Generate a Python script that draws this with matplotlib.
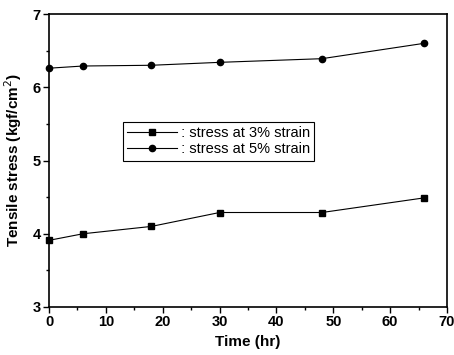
import matplotlib.pyplot as plt
from matplotlib.ticker import MultipleLocator

plt.rcParams['font.family'] = ['Liberation Sans', 'DejaVu Sans']

# data
time_hr = [0, 6, 18, 30, 48, 66]
stress_3 = [3.91, 4.00, 4.10, 4.29, 4.29, 4.49]
stress_5 = [6.26, 6.29, 6.30, 6.34, 6.39, 6.60]

fig = plt.figure(figsize=(4.54, 3.55), dpi=100)
ax = fig.add_axes([49 / 454, 1 - 307 / 355, 398 / 454, 293 / 355])

ax.plot(time_hr, stress_3, color='black', marker='s', markersize=4.2, linewidth=0.8,
        label=' : stress at 3% strain', clip_on=False)
ax.plot(time_hr, stress_5, color='black', marker='o', markersize=4.5, linewidth=0.8,
        label=' : stress at 5% strain', clip_on=False)

ax.set_xlim(0, 70)
ax.set_ylim(3, 7)
ax.xaxis.set_major_locator(MultipleLocator(10))
ax.xaxis.set_minor_locator(MultipleLocator(5))
ax.yaxis.set_major_locator(MultipleLocator(1))
ax.yaxis.set_minor_locator(MultipleLocator(0.5))
ax.tick_params(which='major', direction='out', length=4, width=1, labelsize=10.5, pad=2)
ax.tick_params(which='minor', direction='out', length=2, width=1)
for lbl in ax.get_xticklabels() + ax.get_yticklabels():
    lbl.set_fontweight('bold')
for sp in ax.spines.values():
    sp.set_linewidth(1.2)

ax.set_xlabel('Time (hr)', fontsize=11, fontweight='bold', labelpad=4)
ax.set_ylabel('Tensile stress (kgf/cm$^2$)', fontsize=11, fontweight='bold', labelpad=6)

leg = ax.legend(loc='upper left', bbox_to_anchor=(0.185, 0.632), fontsize=10.5,
                frameon=True, fancybox=False, edgecolor='black', framealpha=1,
                handlelength=3.4, borderpad=0.3, labelspacing=0.15, handletextpad=0.0,
                borderaxespad=0)
leg.get_frame().set_linewidth(0.8)

fig.savefig('out.png', dpi=100)
